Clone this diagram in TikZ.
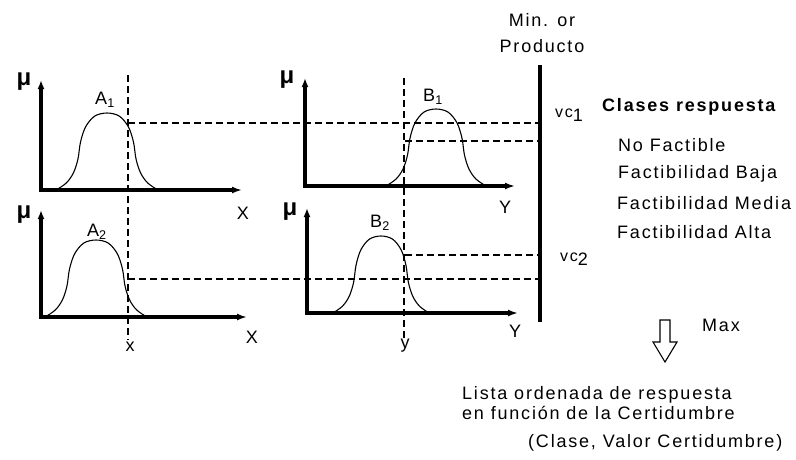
\documentclass[tikz,border=0pt]{standalone}
\usepackage{fontspec}
\setmainfont{Liberation Sans}[LetterSpace=10]
\usetikzlibrary{arrows.meta}

\begin{document}
\begin{tikzpicture}[x=1pt,y=-1pt,font=\fontsize{18}{20}\selectfont,
  axis/.style={line width=3.2pt,line join=miter,{Latex[length=9pt,width=7pt]}-{Latex[length=10pt,width=7pt]}},
  guide/.style={line width=1.4pt,dash pattern=on 7pt off 4pt},
  curve/.style={line width=1.1pt},
  lbl/.style={inner sep=0pt},
  mu/.style={inner sep=0pt,font=\fontsize{24}{24}\selectfont\bfseries},
  bell/.pic={\draw[curve] plot[smooth,tension=0.55] coordinates {(-1,0) (-0.8,-0.09) (-0.66,-0.22) (-0.57,-0.4) (-0.52,-0.62) (-0.42,-0.82) (-0.24,-0.96) (0,-1) (0.24,-0.96) (0.42,-0.82) (0.52,-0.62) (0.57,-0.4) (0.66,-0.22) (0.8,-0.09) (1,0)};}]
\useasboundingbox (0,0) rectangle (796,459);
% antecedent A1
\draw[axis] (41,80) -- (41,190) -- (242,190);
\pic[xscale=51,yscale=77] at (107,190) {bell};
\node[mu] (muA1) at (24,82) {μ};
\node[lbl] (A1) at (105,100) {A\textsubscript{1}};
\node[lbl] (X1) at (243,213) {X};
% antecedent A2
\draw[axis] (41,210) -- (41,317) -- (247,317);
\pic[xscale=51,yscale=77] at (96,317) {bell};
\node[mu] (muA2) at (24,215) {μ};
\node[lbl] (A2) at (97,232) {A\textsubscript{2}};
\node[lbl] (X2) at (252,337) {X};
% consequent B1
\draw[axis] (305,78) -- (305,186) -- (515,186);
\pic[xscale=50,yscale=77] at (436,186) {bell};
\node[mu] (muB1) at (287,80) {μ};
\node[lbl] (B1) at (433,97) {B\textsubscript{1}};
\node[lbl] (Y1) at (505,207) {Y};
% consequent B2
\draw[axis] (307,208) -- (307,313) -- (518,313);
\pic[xscale=48,yscale=77] at (381,313) {bell};
\node[mu] (muB2) at (290,212) {μ};
\node[lbl] (B2) at (380,223) {B\textsubscript{2}};
\node[lbl] (Y2) at (515,331) {Y};
% inputs
\draw[guide] (128,75) -- (128,340);
\draw[guide] (404,78) -- (404,340);
\node[lbl] (xin) at (130,347) {x};
\node[lbl] (yin) at (405,346) {y};
% membership degrees
\draw[guide] (128,123) -- (540,123);
\draw[guide] (405,141) -- (540,141);
\draw[guide] (405,255) -- (540,255);
\draw[guide] (128,279) -- (540,279);
% aggregation bar
\draw[line width=3.5pt] (540,65) -- (540,322);
\node[align=center,inner sep=0pt,font=\fontsize{18}{26}\selectfont] (oper) at (542,33) {Min. or\\Producto};
\node[lbl,anchor=west,font=\fontsize{16}{16}\selectfont] (vc1) at (555,115) {vc\raisebox{-4pt}{\fontsize{18}{18}\selectfont 1}};
\node[lbl,anchor=west,font=\fontsize{16}{16}\selectfont] (vc2) at (560,259) {vc\raisebox{-4pt}{\fontsize{18}{18}\selectfont 2}};
% response classes
\node[lbl,anchor=west,font=\fontsize{18}{20}\selectfont\bfseries] (clases) at (602,107) {Clases respuesta};
\node[lbl,anchor=west] (c1) at (618,145) {No Factible};
\node[lbl,anchor=west] (c2) at (618,174) {Factibilidad Baja};
\node[lbl,anchor=west] (c3) at (617,203) {Factibilidad Media};
\node[lbl,anchor=west] (c4) at (617,232) {Factibilidad Alta};
% max step
\draw[line width=1.1pt,line join=miter] (660,320) -- (670,320) -- (670,342) -- (677,342) -- (665,362) -- (653,342) -- (660,342) -- cycle;
\node[lbl,anchor=west] (max) at (702,325) {Max};
\node[lbl,anchor=west,align=left] (lista) at (462,403) {Lista ordenada de respuesta\\en función de la Certidumbre};
\node[lbl,anchor=west] (par) at (528,443) {(Clase, Valor Certidumbre)};
\end{tikzpicture}
\end{document}
